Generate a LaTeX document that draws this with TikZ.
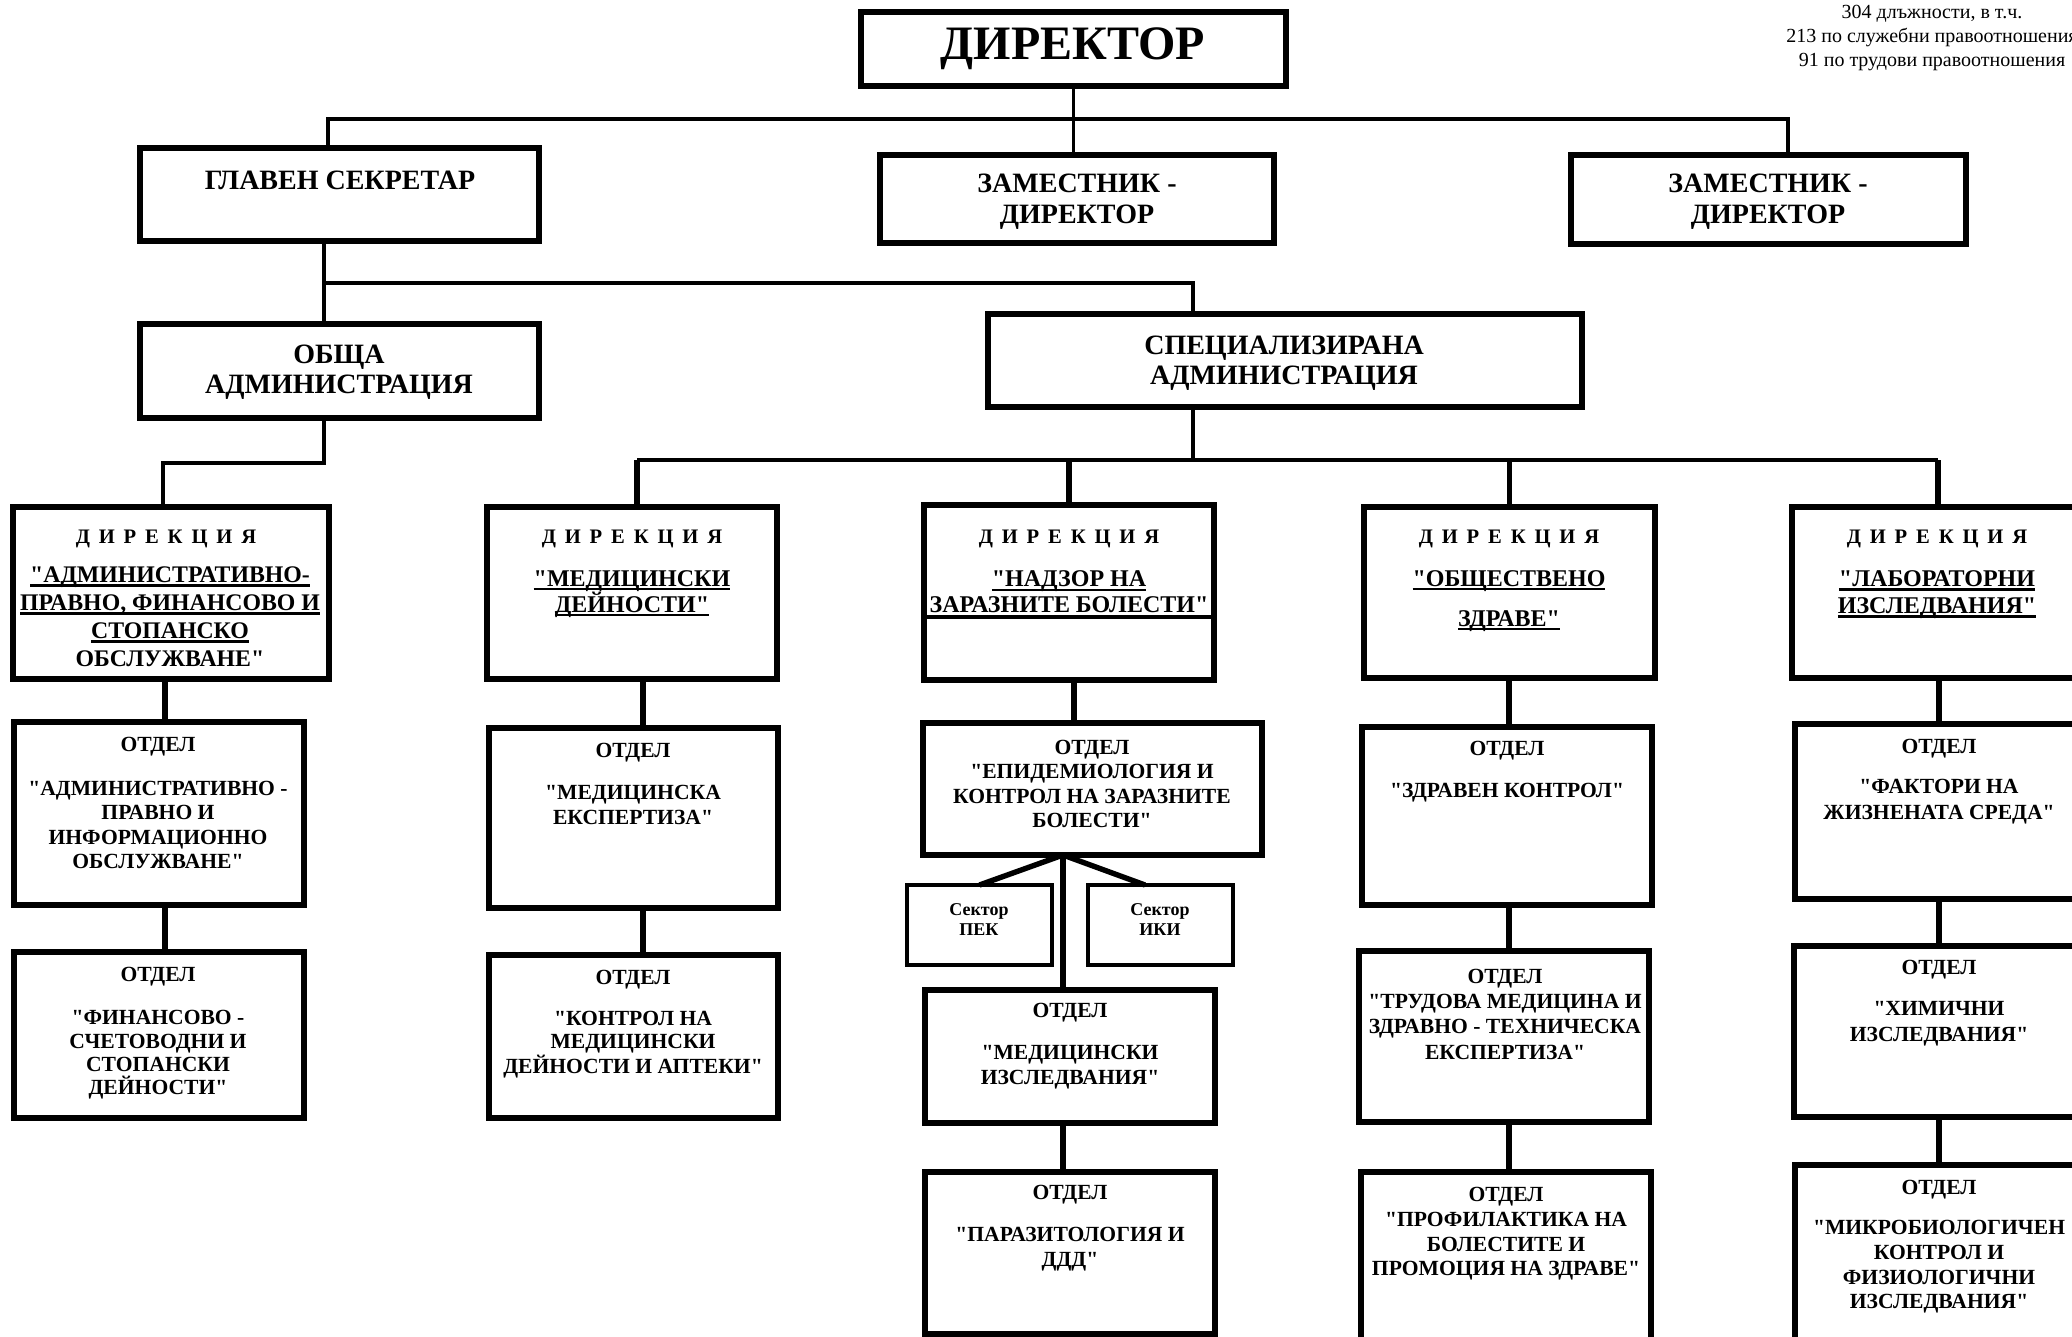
\documentclass[tikz,border=0pt]{standalone}
\usepackage{fontspec}
\setmainfont{Liberation Serif}[Ligatures=TeXOff]
\newsavebox\ulbx
\newcommand\ulx[1]{\sbox\ulbx{#1}\rlap{\rule[-2pt]{\wd\ulbx}{1.2pt}}\usebox\ulbx}
\newcommand\dirk{Д\kern.43emИ\kern.43emР\kern.43emЕ\kern.43emК\kern.43emЦ\kern.43emИ\kern.43emЯ}
\newcommand\bx[6][]{\node[obox,#1,minimum width={(#5-#3)*0.5pt},minimum height={(#6-#4)*0.5pt}] (#2) at ({(#3+#5)/2},{(#4+#6)/2}) {};}
\begin{document}
\begin{tikzpicture}[x=0.5pt,y=-0.5pt,
 obox/.style={draw, line width=2.6pt, inner sep=0pt, outer sep=0pt},
 txt/.style={align=center, inner sep=0pt, text=black},
 c1/.style={line width=1.8pt},
 c2/.style={line width=2.2pt},
 c3/.style={line width=2.7pt},
 bigt/.style={font=\bfseries\fontsize{14pt}{15.5pt}\selectfont},
 dtitle/.style={font=\bfseries\fontsize{10.3pt}{12pt}\selectfont},
 dname/.style={font=\bfseries\fontsize{12pt}{13pt}\selectfont},
 otitle/.style={font=\bfseries\fontsize{10.8pt}{12pt}\selectfont},
 oname/.style={font=\bfseries\fontsize{10.8pt}{12.2pt}\selectfont},
 corner/.style={font=\fontsize{10pt}{10pt}\selectfont},
]
\useasboundingbox (0,0) rectangle (2072,1337);
\clip (0,0) rectangle (2072,1337);
\fill[white] (0,0) rectangle (2072,1337);

% ---------- boxes ----------
\bx[line width=3pt]{dir}{861}{12}{1286}{86}
\bx{gs}{140}{148}{539}{241}
\bx{zam1}{880}{155}{1274}{243}
\bx{zam2}{1571}{155}{1966}{244}
\bx{obsta}{140}{324}{539}{418}
\bx{spec}{988}{314}{1582}{407}
\bx{d1}{13}{507}{329}{679}
\bx{d2}{487}{507}{777}{679}
\bx{d3}{924}{505}{1214}{680}
\bx{d4}{1364}{507}{1655}{678}
\bx{d5}{1792}{507}{2082}{678}
\bx{o1a}{14}{722}{304}{905}
\bx{o1b}{14}{952}{304}{1118}
\bx{o2a}{489}{728}{778}{908}
\bx{o2b}{489}{955}{778}{1118}
\bx{o3a}{923}{723}{1262}{855}
\bx[line width=2.2pt]{pek}{907}{885}{1052}{965}
\bx[line width=2.2pt]{iki}{1088}{885}{1233}{965}
\bx{o3b}{925}{990}{1215}{1123}
\bx{o3c}{925}{1172}{1215}{1334}
\bx{o4a}{1362}{727}{1652}{905}
\bx{o4b}{1359}{951}{1649}{1122}
\bx{o4c}{1361}{1172}{1651}{1360}
\bx{o5a}{1795}{724}{2083}{899}
\bx{o5b}{1794}{946}{2083}{1117}
\bx{o5c}{1795}{1165}{2083}{1360}

% inner line of d3
\coordinate (d3line) at (0,617);
\draw[line width=1.6pt] (d3.west |- d3line) -- (d3.east |- d3line);

% ---------- connectors ----------
\coordinate (b1L) at (328,119);
\coordinate (b1R) at (1788,119);
\draw[c1] (dir.south) -- (dir.south |- zam1.north);
\draw[c1] (gs.north -| b1L) -- (b1L) -- (b1R) -- (zam2.north -| b1R);

\coordinate (b2L) at (324,283);
\coordinate (b2R) at (1193,283);
\draw[c1] (gs.south -| b2L) -- (obsta.north -| b2L);
\draw[c1] (b2L) -- (b2R) -- (spec.north -| b2R);

\coordinate (b3) at (1193,460);
\coordinate (b3L) at (637,460);
\coordinate (b3R) at (1938,460);
\draw[c2] (spec.south -| b3) -- (b3);
\draw[c2] (b3L) -- (b3R);
\draw[c3] (b3L) -- (d2.north -| b3L);
\draw[c3] (d3.north |- b3L) -- (d3.north);
\draw[c3] (d4.north |- b3L) -- (d4.north);
\draw[c3] (b3R) -- (d5.north -| b3R);

\coordinate (k1) at (324,463);
\coordinate (k2) at (163,463);
\draw[c2] (obsta.south -| k1) -- (k1) -- (k2) -- (d1.north -| k2);

\coordinate (x1) at (165,0);
\draw[c3] (d1.south -| x1) -- (o1a.north -| x1);
\draw[c3] (o1a.south -| x1) -- (o1b.north -| x1);
\coordinate (x2) at (643,0);
\draw[c3] (d2.south -| x2) -- (o2a.north -| x2);
\draw[c3] (o2a.south -| x2) -- (o2b.north -| x2);
\coordinate (x3) at (1074,0);
\draw[c3] (d3.south -| x3) -- (o3a.north -| x3);
\coordinate (j3) at (1063,855);
\coordinate (ikiT) at (1145,0);
\draw[c3] (j3) -- (pek.north);
\draw[c3] (j3) -- (iki.north -| ikiT);
\draw[c3] (j3) -- (o3b.north -| j3);
\draw[c3] (o3b.south -| j3) -- (o3c.north -| j3);
\coordinate (x4) at (1509,0);
\draw[c3] (d4.south -| x4) -- (o4a.north -| x4);
\draw[c3] (o4a.south -| x4) -- (o4b.north -| x4);
\draw[c3] (o4b.south -| x4) -- (o4c.north -| x4);
\coordinate (x5) at (1939,0);
\draw[c3] (d5.south -| x5) -- (o5a.north -| x5);
\draw[c3] (o5a.south -| x5) -- (o5b.north -| x5);
\draw[c3] (o5b.south -| x5) -- (o5c.north -| x5);

% ---------- texts ----------
\node[txt, font=\bfseries\fontsize{24pt}{28pt}\selectfont] (tdir) at (1073,49) {ДИРЕКТОР};
\node[txt,corner] (n1) at (1932,14) {304 длъжности, в т.ч.};
\node[txt,corner] (n2) at (1932,38) {213 по служебни правоотношения};
\node[txt,corner] (n3) at (1932,62) {91 по трудови правоотношения};

\node[txt,bigt] (tgs) at (340,180) {ГЛАВЕН СЕКРЕТАР};
\node[txt,bigt] (tz1) at (1077,201.5) {ЗАМЕСТНИК -\\ДИРЕКТОР};
\node[txt,bigt] (tz2) at (1768,201.5) {ЗАМЕСТНИК -\\ДИРЕКТОР};
\node[txt,font=\bfseries\fontsize{14pt}{15pt}\selectfont] (tob) at (339,372) {ОБЩА\\АДМИНИСТРАЦИЯ};
\node[txt,font=\bfseries\fontsize{14pt}{15pt}\selectfont] (tsp) at (1284,363) {СПЕЦИАЛИЗИРАНА\\АДМИНИСТРАЦИЯ};

\node[txt,dtitle] (h1) at (166,539) {\dirk};
\node[txt,dtitle] (h2) at (632,539) {\dirk};
\node[txt,dtitle] (h3) at (1069,539) {\dirk};
\node[txt,dtitle] (h4) at (1509,539) {\dirk};
\node[txt,dtitle] (h5) at (1937,539) {\dirk};

\node[txt,font=\bfseries\fontsize{11.9pt}{14pt}\selectfont] (td1) at (170,617) {\ulx{"АДМИНИСТРАТИВНО-}\\\ulx{ПРАВНО, ФИНАНСОВО И}\\\ulx{СТОПАНСКО}\\ОБСЛУЖВАНЕ"};
\node[txt,dname] (td2) at (632,594) {\ulx{"МЕДИЦИНСКИ}\\\ulx{ДЕЙНОСТИ"}};
\node[txt,dname] (td3) at (1069,594) {\ulx{"НАДЗОР НА}\\\ulx{ЗАРАЗНИТЕ БОЛЕСТИ"}};
\node[txt,font=\bfseries\fontsize{12pt}{20pt}\selectfont] (td4) at (1509,601) {\ulx{"ОБЩЕСТВЕНО}\\\ulx{ЗДРАВЕ"}};
\node[txt,font=\bfseries\fontsize{12pt}{13.5pt}\selectfont] (td5) at (1937,595) {\ulx{"ЛАБОРАТОРНИ}\\\ulx{ИЗСЛЕДВАНИЯ"}};

\node[txt,otitle] (p1a) at (158,747) {ОТДЕЛ};
\node[txt,oname,font=\bfseries\fontsize{10.8pt}{12.3pt}\selectfont] (q1a) at (158,825) {"АДМИНИСТРАТИВНО -\\ПРАВНО И\\ИНФОРМАЦИОННО\\ОБСЛУЖВАНЕ"};
\node[txt,otitle] (p1b) at (158,977) {ОТДЕЛ};
\node[txt,oname,font=\bfseries\fontsize{10.8pt}{11.7pt}\selectfont] (q1b) at (158,1055) {"ФИНАНСОВО -\\СЧЕТОВОДНИ И\\СТОПАНСКИ\\ДЕЙНОСТИ"};
\node[txt,otitle] (p2a) at (633,753) {ОТДЕЛ};
\node[txt,oname] (q2a) at (633,805) {"МЕДИЦИНСКА\\ЕКСПЕРТИЗА"};
\node[txt,otitle] (p2b) at (633,980) {ОТДЕЛ};
\node[txt,oname,font=\bfseries\fontsize{10.8pt}{11.5pt}\selectfont] (q2b) at (633,1045) {"КОНТРОЛ НА\\МЕДИЦИНСКИ\\ДЕЙНОСТИ И АПТЕКИ"};
\node[txt,oname] (q3a) at (1092,784) {ОТДЕЛ\\"ЕПИДЕМИОЛОГИЯ И\\КОНТРОЛ НА ЗАРАЗНИТЕ\\БОЛЕСТИ"};
\node[txt,font=\bfseries\fontsize{9pt}{10pt}\selectfont] (tpek) at (979,920) {Сектор\\ПЕК};
\node[txt,font=\bfseries\fontsize{9pt}{10pt}\selectfont] (tiki) at (1160,920) {Сектор\\ИКИ};
\node[txt,otitle] (p3b) at (1070,1013) {ОТДЕЛ};
\node[txt,oname,font=\bfseries\fontsize{10.8pt}{12.5pt}\selectfont] (q3b) at (1070,1067.5) {"МЕДИЦИНСКИ\\ИЗСЛЕДВАНИЯ"};
\node[txt,otitle] (p3c) at (1070,1195) {ОТДЕЛ};
\node[txt,oname,font=\bfseries\fontsize{10.8pt}{12.5pt}\selectfont] (q3c) at (1070,1249.5) {"ПАРАЗИТОЛОГИЯ И\\ДДД"};
\node[txt,otitle] (p4a) at (1507,751) {ОТДЕЛ};
\node[txt,oname] (q4a) at (1507,793) {"ЗДРАВЕН КОНТРОЛ"};
\node[txt,oname,font=\bfseries\fontsize{10.8pt}{12.65pt}\selectfont] (q4b) at (1505,1014) {ОТДЕЛ\\"ТРУДОВА МЕДИЦИНА И\\ЗДРАВНО - ТЕХНИЧЕСКА\\ЕКСПЕРТИЗА"};
\node[txt,oname,font=\bfseries\fontsize{10.8pt}{12.35pt}\selectfont] (q4c) at (1506,1234) {ОТДЕЛ\\"ПРОФИЛАКТИКА НА\\БОЛЕСТИТЕ И\\ПРОМОЦИЯ НА ЗДРАВЕ"};
\node[txt,otitle] (p5a) at (1939,749) {ОТДЕЛ};
\node[txt,oname,font=\bfseries\fontsize{10.8pt}{13pt}\selectfont] (q5a) at (1939,802) {"ФАКТОРИ НА\\ЖИЗНЕНАТА СРЕДА"};
\node[txt,otitle] (p5b) at (1939,970) {ОТДЕЛ};
\node[txt,oname,font=\bfseries\fontsize{10.8pt}{13pt}\selectfont] (q5b) at (1939,1024) {"ХИМИЧНИ\\ИЗСЛЕДВАНИЯ"};
\node[txt,otitle] (p5c) at (1939,1190) {ОТДЕЛ};
\node[txt,oname,font=\bfseries\fontsize{10.8pt}{12.35pt}\selectfont] (q5c) at (1939,1267) {"МИКРОБИОЛОГИЧЕН\\КОНТРОЛ И\\ФИЗИОЛОГИЧНИ\\ИЗСЛЕДВАНИЯ"};
\end{tikzpicture}
\end{document}
